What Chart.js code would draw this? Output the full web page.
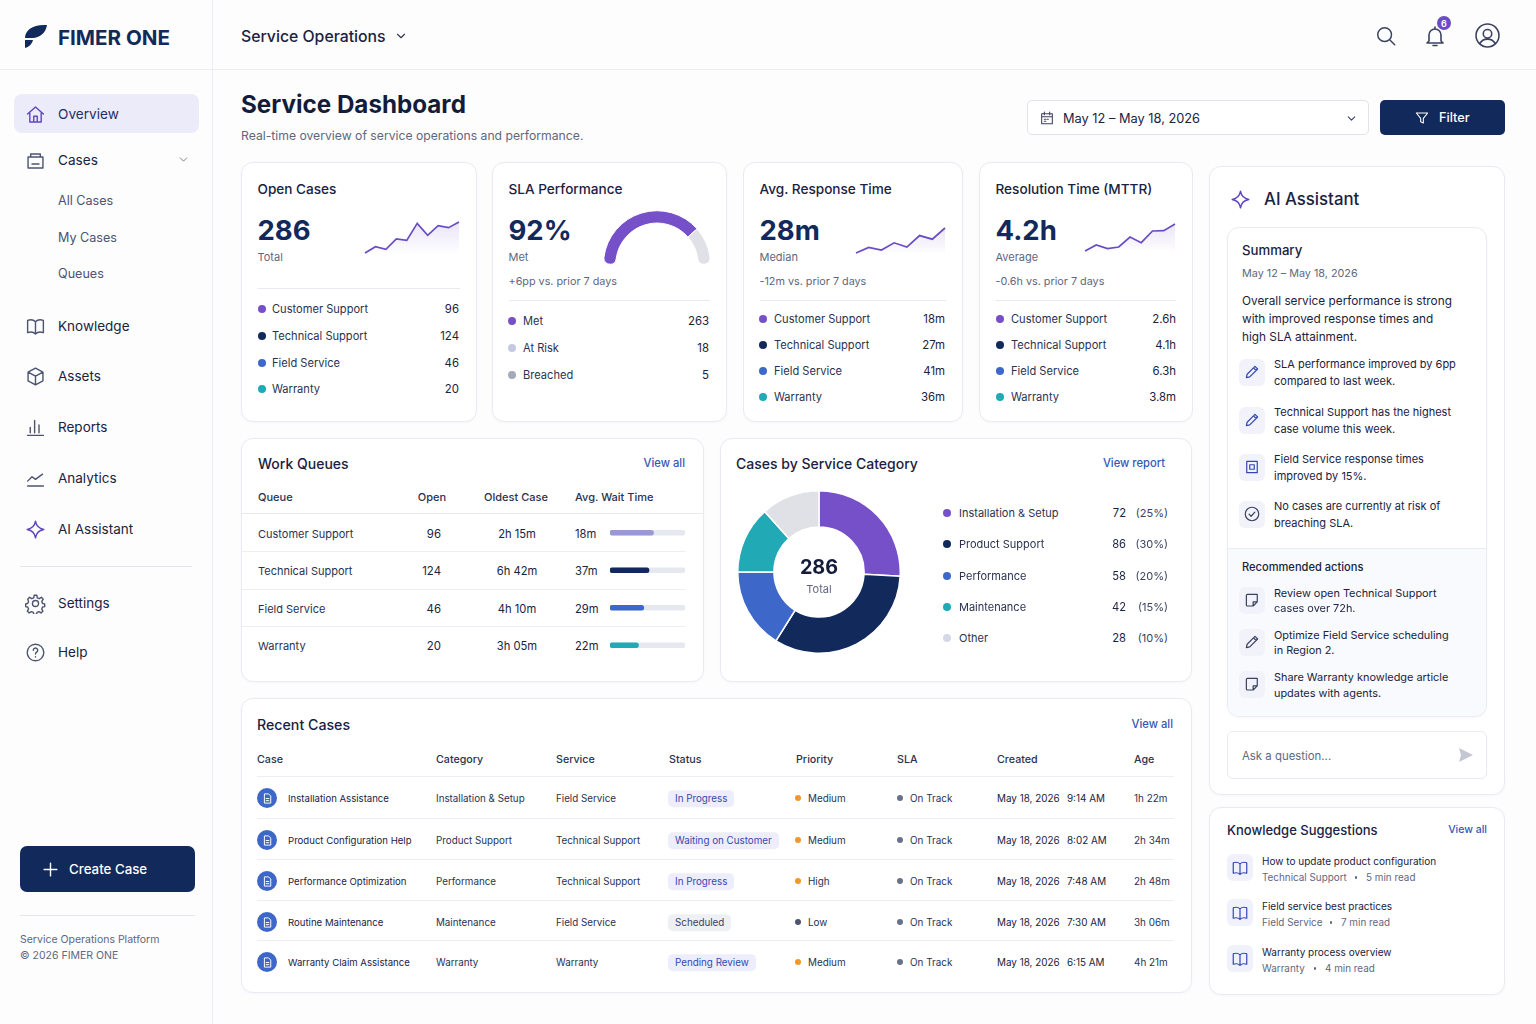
<!DOCTYPE html>
<html>
<head>
<meta charset="utf-8">
<title>Service Dashboard</title>
<script src="https://cdn.jsdelivr.net/npm/chart.js@4"></script>
<style>
  html, body { margin: 0; padding: 0; width: 1536px; height: 1024px; overflow: hidden; background: #fdfdfe; font-family: Inter, "Noto Sans", sans-serif; }
  #page { position: relative; width: 1536px; height: 1024px; }
  .t { position: absolute; white-space: nowrap; line-height: 1.2; }
  .box { position: absolute; box-sizing: border-box; }
  .card { position: absolute; box-sizing: border-box; background: #fff; border: 1px solid #e9ebf3; border-radius: 12px; box-shadow: 0 1px 3px rgba(30,40,90,0.03); }
  canvas { position: absolute; }
  svg { position: absolute; }
</style>
</head>
<body>
<div id="page"></div>
<script>
const NAVY = '#12295c', PURPLE = '#7650c8', BLUE = '#3d68c9', TEAL = '#21a9b5', GREY = '#dfe1e6';
const INK = '#1a2240', MUTED = '#5f6780', LINK = '#3557b7';

// sparklines
const openTrend = [0, 19, 11, 42, 38, 89, 53, 82, 76, 93];
const responseTrend = [0, 17, 9, 31, 18, 53, 42, 76];
const mttrTrend = [0, 18, 7, 12, 42, 25, 60, 61, 81];

// gauge arc as drawn: the purple part stops short of the printed 92%
const gaugeLabels = ['Met', 'Rest'];
const gaugeShares = [77, 23];

const serviceNames = ['Customer Support', 'Technical Support', 'Field Service', 'Warranty'];
const serviceColors = [PURPLE, NAVY, BLUE, TEAL];
const openCounts = ['96', '124', '46', '20'];
const slaNames = ['Met', 'At Risk', 'Breached'];
const slaCounts = ['263', '18', '5'];
const slaColors = [PURPLE, '#c5c8e0', '#a5a9b8'];
const responseTimes = ['18m', '27m', '41m', '36m'];
const mttrTimes = ['2.6h', '4.1h', '6.3h', '3.8m'];

// work queues
const queueOldest = ['2h 15m', '6h 42m', '4h 10m', '3h 05m'];
const queueWait = ['18m', '37m', '29m', '22m'];
const queueFill = [58, 52, 45, 38];
const queueColors = ['#9a99d2', NAVY, BLUE, TEAL];
const queueTrack = [100, 100, 100, 100];

// doughnut: printed counts for the legend, slice shares
const categoryNames = ['Installation & Setup', 'Product Support', 'Performance', 'Maintenance', 'Other'];
const categoryCounts = ['72', '86', '58', '42', '28'];
const categoryPercents = ['(25%)', '(30%)', '(20%)', '(15%)', '(10%)'];
const categoryShares = [93, 119, 58, 48, 42];
const categoryColors = [PURPLE, NAVY, BLUE, TEAL, GREY];

// recent cases
const caseNames = ['Installation Assistance', 'Product Configuration Help', 'Performance Optimization', 'Routine Maintenance', 'Warranty Claim Assistance'];
const caseCategories = ['Installation & Setup', 'Product Support', 'Performance', 'Maintenance', 'Warranty'];
const caseServices = ['Field Service', 'Technical Support', 'Technical Support', 'Field Service', 'Warranty'];
const caseStatus = ['In Progress', 'Waiting on Customer', 'In Progress', 'Scheduled', 'Pending Review'];
const casePriority = ['Medium', 'Medium', 'High', 'Low', 'Medium'];
const caseDates = ['May 18, 2026', 'May 18, 2026', 'May 18, 2026', 'May 18, 2026', 'May 18, 2026'];
const caseTimes = ['9:14 AM', '8:02 AM', '7:48 AM', '7:30 AM', '6:15 AM'];
const caseAges = ['1h 22m', '2h 34m', '2h 48m', '3h 06m', '4h 21m'];

const page = document.getElementById('page');

function txt(x, y, s, size, color, weight, align) {
  const el = document.createElement('div');
  el.className = 't';
  el.textContent = s;
  const shift = align === 'r' ? '-100%' : align === 'c' ? '-50%' : '0';
  // small text sits a touch high when centred on its line box
  const top = size < 12 ? y + 0.7 : y;
  el.style.cssText = `left:${x}px;top:${top}px;font-size:${size}px;color:${color || INK};font-weight:${weight || 400};transform:translate(${shift},-50%)`;
  page.appendChild(el);
  return el;
}

function box(x, y, w, h, css, cls) {
  const el = document.createElement('div');
  el.className = cls || 'box';
  el.style.cssText = `left:${x}px;top:${y}px;width:${w}px;height:${h}px;${css || ''}`;
  page.appendChild(el);
  return el;
}

function dot(cx, cy, r, color) {
  box(cx - r, cy - r, r * 2, r * 2, `background:${color};border-radius:50%`);
}

const ICONS = {
  home: 'M3 11.5 12 3.5l9 8M5.5 10v10.5h13V10M10 20.5V14h4v6.5',
  cases: 'M3.5 8h17v12.5h-17zM6.5 8V4.5h11V8M8 16h8',
  book: 'M12 6.5C10 4.5 6 4 3 5v14c3-1 7-.5 9 1.5 2-2 6-2.5 9-1.5V5c-3-1-7-.5-9 1.5zM12 6.5v14',
  box: 'M12 2.5 3.5 7v10l8.5 4.5 8.5-4.5V7zM3.5 7l8.5 4.5L20.5 7M12 11.5v10',
  reports: 'M3 21h18M6 18v-6M11 18V4M16 18V9',
  analytics: 'M3 20.5h18M3 15l5-5 4 3 8-6',
  sparkle: 'M12 2.5c1 6 3.5 8.5 9.5 9.5-6 1-8.5 3.5-9.5 9.5-1-6-3.5-8.5-9.5-9.5 6-1 8.5-3.5 9.5-9.5z',
  gear: 'M12 8.5a3.5 3.5 0 1 0 0 7 3.5 3.5 0 0 0 0-7zM10.5 2.5h3l.5 3 2.2 1 2.6-1.6 2 2.2L19.2 9.600l.9 2.400 2.400.5v3l-2.400.5-1 2.200 1.400 2.500-2.100 2.100-2.500-1.500-2.200.9-.6 2.300h-3l-.6-2.300-2.200-.9-2.500 1.500-2.100-2.100 1.400-2.500-1-2.200-2.400-.5v-3l2.400-.5.9-2.400L3.200 7.100l2-2.200 2.600 1.600 2.200-1z',
  help: 'M12 2.500a9.500 9.500 0 1 0 0 19 9.500 9.500 0 0 0 0-19zM9.500 9.500a2.500 2.500 0 1 1 3.800 2.100c-.9.6-1.300 1.100-1.300 2.100M12 16.800v.4',
  pencil: 'M4.500 19.500l1-4.500L16 4.500l3.500 3.500L9 18.500zM14 6.500l3.500 3.500',
  doc: 'M7 3.500h7l4 4v13H7zM9.500 12h5M9.500 16h5',
  check: 'M12 3a9 9 0 1 0 0 18 9 9 0 0 0 0-18zM8 12.200l2.800 2.800 5-5.500',
  note: 'M6 4.500h13v10l-5.500 5.500H6a1.500 1.500 0 0 1-1.500-1.500v-12.500A1.500 1.500 0 0 1 6 4.500zM13.500 20v-5.500H19',
  image: 'M5 4.500h14v15H5zM9 9h6v6H9z',
  calendar: 'M4 5.500h16v15H4zM4 10h16M8 3v4M16 3v4M8 14h2M12 14h2M8 17h2',
  funnel: 'M3.500 4.500h17L14 12.500v7l-4-2v-5z',
  search: 'M10.500 3a7.500 7.500 0 1 0 0 15 7.500 7.500 0 0 0 0-15zM16 16l5.500 5.500',
  bell: 'M6 17V11a6 6 0 0 1 12 0v6l2 2H4zM10 21.500h4M12 3v2',
  user: 'M12 2.500a9.500 9.500 0 1 0 0 19 9.500 9.500 0 0 0 0-19zM12 7a3.500 3.500 0 1 0 0 7 3.500 3.500 0 0 0 0-7zM5.500 19c1.500-3 4-4 6.500-4s5 1 6.500 4',
  chevron: 'M6 9l6 6 6-6',
  plus: 'M12 3v18M3 12h18'
};

function icon(name, cx, cy, size, color, sw) {
  const half = size / 2;
  page.insertAdjacentHTML('beforeend',
    `<svg style="left:${cx - half}px;top:${cy - half}px" width="${size}" height="${size}" viewBox="0 0 24 24" fill="none" stroke="${color}" stroke-width="${sw || 1.6}" stroke-linecap="round" stroke-linejoin="round"><path d="${ICONS[name]}"/></svg>`);
}

function addCanvas(id, x, y, w, h) {
  const c = document.createElement('canvas');
  c.id = id;
  c.width = w;
  c.height = h;
  c.style.cssText = `left:${x}px;top:${y}px;width:${w}px;height:${h}px`;
  page.appendChild(c);
  return c;
}

function sparkline(id, x, y, w, h, values) {
  const canvas = addCanvas(id, x, y, w, h);
  const ctx = canvas.getContext('2d');
  const shade = ctx.createLinearGradient(0, 0, 0, h);
  shade.addColorStop(0, 'rgba(118,80,200,0.16)');
  shade.addColorStop(1, 'rgba(118,80,200,0)');
  new Chart(ctx, {
    type: 'line',
    data: {
      labels: values.map((v, i) => i),
      datasets: [{ data: values, borderColor: '#6a4cc6', borderWidth: 1.7, backgroundColor: shade, fill: 'origin', tension: 0, pointRadius: 0, clip: false }]
    },
    options: {
      responsive: false, animation: false, layout: { padding: 2 },
      plugins: { legend: { display: false }, tooltip: { enabled: false } },
      scales: { x: { display: false }, y: { display: false, min: 0, max: Math.max(...values) } }
    }
  });
}

// ---------- shell ----------
box(212, 0, 1, 1024, 'background:#eceef4');
box(0, 69, 1536, 1, 'background:#eceef4');
page.insertAdjacentHTML('beforeend', `<svg style="left:24px;top:24px" width="24" height="25" viewBox="0 0 24 25"><path fill="${NAVY}" d="M1 14C1 6 9 0 23 1c-1 8-8 13-14 13zM1 16h8c-1 4-4 7-8 8z"/></svg>`);
txt(58, 37.5, 'FIMER ONE', 20.6, NAVY, 700);
txt(241, 36.5, 'Service Operations', 15.8, INK, 500);
icon('chevron', 401, 36, 14, '#333b58', 2);
icon('search', 1386, 36, 22, '#3a4260');
icon('bell', 1435, 36, 24, '#3a4260');
dot(1444, 23, 7, '#6a4cc6');
txt(1444, 23, '6', 9, '#fff', 600, 'c');
icon('user', 1487, 35, 29, '#3a4260', 1.3);

// ---------- sidebar ----------
box(14, 94, 185, 39, 'background:#ecebfa;border-radius:8px');
const navTop = [['Overview', 114, 'home', '#5f45c4'], ['Cases', 160, 'cases', '#4c5470']];
navTop.forEach(n => { txt(58, n[1], n[0], 13.6, n[0] === 'Overview' ? '#1f2f66' : INK, 400); icon(n[2], 35, n[1], 21, n[3]); });
icon('chevron', 183, 159, 13, '#6a7188');
['All Cases', 'My Cases', 'Queues'].forEach((s, i) => txt(58, [201, 237.5, 273.5][i], s, 12.6, '#4c5470'));
[['Knowledge', 326, 'book'], ['Assets', 376, 'box'], ['Reports', 427, 'reports'], ['Analytics', 478, 'analytics'], ['AI Assistant', 529, 'sparkle'], ['Settings', 603, 'gear'], ['Help', 652, 'help']].forEach(n => {
  txt(58, n[1], n[0], 13.5, INK);
  icon(n[2], 35, n[1], 21, n[0] === 'AI Assistant' ? '#5f45c4' : '#4c5470');
});
box(20, 566, 172, 1, 'background:#e4e6ee');
box(20, 846, 175, 46, `background:${NAVY};border-radius:7px`);
icon('plus', 50, 869, 17, '#fff', 2);
txt(69, 869.5, 'Create Case', 13.3, '#fff', 500);
box(20, 915, 175, 1, 'background:#e4e6ee');
txt(20, 939, 'Service Operations Platform', 10.5, MUTED);
txt(20, 955, '© 2026 FIMER ONE', 10.5, MUTED);

// ---------- title row ----------
txt(241, 105, 'Service Dashboard', 24.2, '#141c3a', 700);
txt(241, 135.5, 'Real-time overview of service operations and performance.', 12.2, MUTED);
box(1027, 100, 342, 35, 'background:#fff;border:1px solid #e0e3ec;border-radius:5px');
icon('calendar', 1047, 118, 16, '#3a4260');
txt(1063, 118.5, 'May 12 – May 18, 2026', 12.8, INK);
icon('chevron', 1351, 118, 13, '#3a4260', 2);
box(1380, 100, 125, 35, `background:${NAVY};border-radius:5px`);
icon('funnel', 1422, 118, 16, '#fff');
txt(1439, 118, 'Filter', 12.7, '#fff', 500);

// ---------- KPI cards ----------
function legendRows(names, colors, values, dotX, labelX, rightX, ys) {
  names.forEach((s, i) => {
    dot(dotX, ys[i], 4, colors[i]);
    txt(labelX, ys[i], s, 11.1, '#2a3250');
    txt(rightX, ys[i], values[i], 11.4, INK, 400, 'r');
  });
}

function kpi(x, w, title, value, sub, delta, dividerY) {
  box(x, 162, w, 260, '', 'card');
  txt(x + 16.5, 189, title, 13.6, INK, 500);
  txt(x + 16.5, 229.5, value, 27.5, NAVY, 700);
  txt(x + 16.5, 257, sub, 11, MUTED);
  if (delta) txt(x + 16.5, 281, delta, 10.8, MUTED);
  box(x + 17, dividerY, w - 34, 1, 'background:#e8eaf2');
}

kpi(241, 236, 'Open Cases', '286', 'Total', '', 288);
legendRows(serviceNames, serviceColors, openCounts, 262, 272, 459, [309, 336, 363, 389]);
kpi(492, 235, 'SLA Performance', '92%', 'Met', '+6pp vs. prior 7 days', 300);
legendRows(slaNames, slaColors, slaCounts, 512, 523, 709, [321, 348, 375]);
kpi(743, 220, 'Avg. Response Time', '28m', 'Median', '-12m vs. prior 7 days', 300);
legendRows(serviceNames, serviceColors, responseTimes, 763, 774, 945, [319, 345, 371, 397]);
kpi(979, 214, 'Resolution Time (MTTR)', '4.2h', 'Average', '-0.6h vs. prior 7 days', 300);
legendRows(serviceNames, serviceColors, mttrTimes, 1000, 1011, 1176, [319, 345, 371, 397]);

sparkline('sparkOpen', 363, 220, 98, 35, openTrend);
sparkline('sparkResponse', 854, 226, 93, 29, responseTrend);
sparkline('sparkMttr', 1083, 222, 94, 31, mttrTrend);

new Chart(addCanvas('gauge', 603, 210, 108, 55).getContext('2d'), {
  type: 'doughnut',
  data: {
    labels: gaugeLabels,
    datasets: [{
      data: gaugeShares,
      backgroundColor: [PURPLE, GREY],
      borderColor: '#fff', borderWidth: 1,
      borderRadius: [{ outerStart: 6, innerStart: 6, outerEnd: 0, innerEnd: 0 }, { outerStart: 0, innerStart: 0, outerEnd: 6, innerEnd: 6 }]
    }]
  },
  options: {
    responsive: false, animation: false, rotation: -90, circumference: 180, cutout: '77%',
    plugins: { legend: { display: false }, tooltip: { enabled: false } }
  }
});

// ---------- work queues ----------
box(241, 438, 463, 244, '', 'card');
txt(258, 464, 'Work Queues', 14, INK, 500);
txt(685, 463, 'View all', 11.2, LINK, 500, 'r');
txt(258, 497.5, 'Queue', 11, '#2a3250', 500);
txt(432, 497.5, 'Open', 11, '#2a3250', 500, 'c');
txt(516, 497.5, 'Oldest Case', 11, '#2a3250', 500, 'c');
txt(575, 497.5, 'Avg. Wait Time', 11, '#2a3250', 500);
box(242, 513, 461, 1, 'background:#e8eaf2');
[551, 589, 626].forEach(y => box(242, y, 443, 1, 'background:#eceef4'));
[534, 571, 609, 646].forEach((y, i) => {
  txt(258, y, serviceNames[i], 11, '#2a3250');
  txt(441, y, openCounts[i], 11.4, INK, 400, 'r');
  txt(517, y, queueOldest[i], 11.2, INK, 400, 'c');
  txt(575, y, queueWait[i], 11.2, INK);
});
new Chart(addCanvas('queueBars', 610, 514, 75, 150).getContext('2d'), {
  type: 'bar',
  data: {
    labels: serviceNames,
    datasets: [
      { data: queueFill, backgroundColor: queueColors, barThickness: 5, borderRadius: 3, borderSkipped: false, grouped: false },
      { data: queueTrack, backgroundColor: '#e6e8ef', barThickness: 5, borderRadius: 3, borderSkipped: false, grouped: false }
    ]
  },
  options: {
    indexAxis: 'y', responsive: false, animation: false,
    plugins: { legend: { display: false }, tooltip: { enabled: false } },
    scales: { x: { display: false, min: 0, max: 100 }, y: { display: false } }
  }
});

// ---------- service category ----------
box(720, 438, 472, 244, '', 'card');
txt(736, 464, 'Cases by Service Category', 14, INK, 500);
txt(1165, 463.5, 'View report', 11.2, LINK, 500, 'r');
new Chart(addCanvas('categoryDonut', 737, 490, 164, 164).getContext('2d'), {
  type: 'doughnut',
  data: { labels: categoryNames, datasets: [{ data: categoryShares, backgroundColor: categoryColors, borderColor: '#fff', borderWidth: 1.5 }] },
  options: {
    responsive: false, animation: false, cutout: '55.500%',
    plugins: { legend: { display: false }, tooltip: { enabled: false } }
  }
});
txt(819, 568, '286', 19.8, '#141c3a', 700, 'c');
txt(819, 589, 'Total', 11, MUTED, 400, 'c');
[513, 544, 576, 607, 638].forEach((y, i) => {
  dot(947, y, 4, i === 4 ? '#d5d8e6' : categoryColors[i]);
  txt(959, y, categoryNames[i], 11, '#2a3250');
  txt(1126, y, categoryCounts[i], 11.2, INK, 400, 'r');
  txt(1168, y, categoryPercents[i], 11, '#3a4260', 400, 'r');
});

// ---------- recent cases ----------
box(241, 698, 951, 295, '', 'card');
txt(257, 724.5, 'Recent Cases', 14.2, INK, 500);
txt(1173, 724, 'View all', 11.2, LINK, 500, 'r');
[['Case', 257], ['Category', 436], ['Service', 556], ['Status', 669], ['Priority', 796], ['SLA', 897], ['Created', 997], ['Age', 1134]].forEach(h => txt(h[1], 759, h[0], 10.7, '#2a3250', 500));
[776, 818, 859, 900, 940].forEach(y => box(257, y, 917, 1, 'background:#eceef4'));
[798, 840, 881, 922, 962].forEach((y, i) => {
  dot(267, y, 10, BLUE);
  icon('doc', 267, y, 13, '#fff', 1.8);
  txt(288, y, caseNames[i], 9.6, INK);
  txt(436, y, caseCategories[i], 9.8, '#2a3250');
  txt(556, y, caseServices[i], 9.8, '#2a3250');
  const muted = caseStatus[i] === 'Scheduled';
  const pill = txt(668, y, caseStatus[i], 9.8, muted ? '#3a4260' : '#3348b0');
  pill.style.cssText += `;padding:3px 7px;border-radius:5px;background:${muted ? '#eef0f4' : '#eeedfb'}`;
  dot(798, y, 3, casePriority[i] === 'Low' ? '#4c5470' : '#f0982f');
  txt(808, y, casePriority[i], 9.9, '#2a3250');
  dot(900, y, 3, '#6a7188');
  txt(910, y, 'On Track', 9.9, '#2a3250');
  txt(997, y, caseDates[i], 9.9, INK);
  txt(1067, y, caseTimes[i], 9.9, INK);
  txt(1134, y, caseAges[i], 9.9, '#2a3250');
});

// ---------- AI assistant ----------
box(1209, 166, 296, 629, '', 'card');
icon('sparkle', 1240, 199, 21, '#5f45c4');
txt(1264, 198.5, 'AI Assistant', 16.8, INK, 500);
box(1227, 227, 260, 490, '', 'card');
box(1228, 548, 258, 168, 'background:#f9fafd;border-top:1px solid #e9ecf5;border-radius:0 0 12px 12px');
txt(1242, 250.5, 'Summary', 13.2, INK, 500);
txt(1242, 273, 'May 12 – May 18, 2026', 10.8, MUTED);
['Overall service performance is strong', 'with improved response times and', 'high SLA attainment.'].forEach((s, i) => txt(1242, 300 + i * 18, s, 11.8, INK));

function tipIcon(name, cx, cy, color) {
  box(cx - 13, cy - 13, 26, 27, 'background:#f2f2fb;border-radius:6px');
  icon(name, cx, cy, 18, color);
}

[
  ['pencil', 372, ['SLA performance improved by 6pp', 'compared to last week.'], [364, 381], '#3348b0'],
  ['pencil', 420, ['Technical Support has the highest', 'case volume this week.'], [412, 429], '#3348b0'],
  ['image', 467, ['Field Service response times', 'improved by 15%.'], [459, 476], '#3348b0'],
  ['check', 514, ['No cases are currently at risk of', 'breaching SLA.'], [506.5, 523.5], '#3a4260']
].forEach(r => {
  tipIcon(r[0], 1252, r[1], r[4]);
  r[2].forEach((s, i) => txt(1274, r[3][i], s, 11, INK));
});
txt(1242, 567, 'Recommended actions', 11.1, INK, 500);
[
  ['note', 600, ['Review open Technical Support', 'cases over 72h.'], [593, 608]],
  ['pencil', 642, ['Optimize Field Service scheduling', 'in Region 2.'], [635, 650]],
  ['note', 684, ['Share Warranty knowledge article', 'updates with agents.'], [677, 693]]
].forEach(r => {
  tipIcon(r[0], 1252, r[1], '#3a4260');
  r[2].forEach((s, i) => txt(1274, r[3][i], s, 10.9, INK));
});
box(1227, 731, 260, 48, 'background:#fff;border:1px solid #e9ebf3;border-radius:6px');
txt(1242, 756, 'Ask a question...', 11.4, MUTED);
page.insertAdjacentHTML('beforeend', '<svg style="left:1458px;top:747px" width="16" height="16" viewBox="0 0 16 16"><path fill="#c3c7d3" d="M1 1l14 7-14 7 2-7z"/></svg>');

// ---------- knowledge ----------
box(1209, 807, 296, 188, '', 'card');
txt(1227, 830.5, 'Knowledge Suggestions', 13, INK, 500);
txt(1487, 829, 'View all', 10.5, LINK, 500, 'r');
[
  [868, 'How to update product configuration', 'Technical Support', '5 min read', 1366],
  [913, 'Field service best practices', 'Field Service', '7 min read', 1341],
  [959, 'Warranty process overview', 'Warranty', '4 min read', 1325]
].forEach(r => {
  box(1227, r[0] - 14, 26, 27, 'background:#f1f1fb;border-radius:6px');
  icon('book', 1240, r[0], 18, '#3348b0');
  txt(1262, r[0] - 8, r[1], 10, INK);
  txt(1262, r[0] + 9, r[2], 9.9, MUTED);
  dot(r[4] - 10, r[0] + 9.5, 1.3, MUTED);
  txt(r[4], r[0] + 9, r[3], 9.9, MUTED);
});
</script>
</body>
</html>
